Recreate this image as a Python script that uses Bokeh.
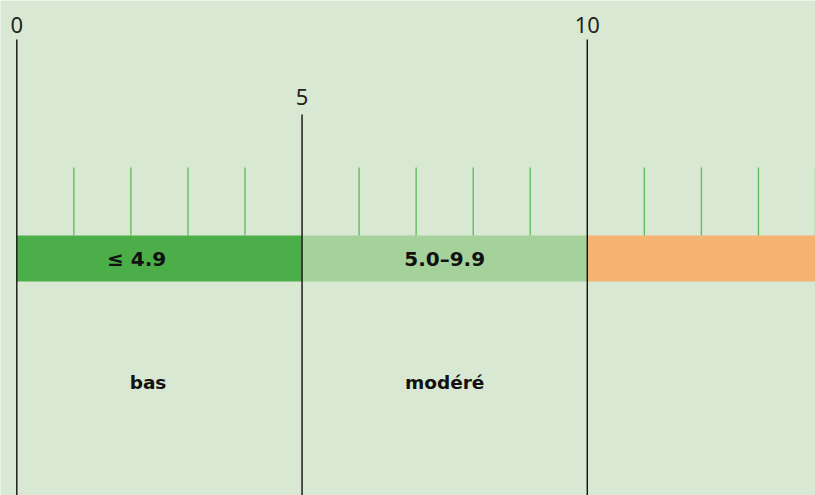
from bokeh.plotting import figure
from bokeh.models import Range1d
from bokeh.core.properties import value
from bokeh.embed import file_html
from bokeh.resources import INLINE

# --- data ---
band_starts = [0, 5, 10]
band_ends = [5, 10, 15]
band_colors = ["#4cae48", "#a5d19b", "#f4b372"]
band_labels = ["\u2264 4.9", "5.0\u20139.9", ""]
band_label_x = [2.1, 7.5, 12.5]
category_labels = ["bas", "modéré"]
category_label_x = [2.3, 7.5]
major_ticks = [0, 5, 10]
major_tick_labels = ["0", "5", "10"]
major_line_top = [39, 114, 39]
major_label_y = [24, 96, 24]
minor_ticks = [1, 2, 3, 4, 6, 7, 8, 9, 11, 12, 13, 14]

BG = "#d9e8d2"
FONT = "Noto Sans"
BOLD_FONT = "DejaVu Sans"

# pixel x = 16.3 + 57.05*v
scale = 57.05
x0 = 16.3
x_start = (0 - x0) / scale
x_end = (815 - x0) / scale

p = figure(width=815, height=495, output_backend="svg", toolbar_location=None,
           x_range=Range1d(x_start, x_end), y_range=Range1d(495, 0),
           min_border=0, background_fill_color=BG, border_fill_color=BG,
           outline_line_color=None)
p.axis.visible = False
p.grid.visible = False

# bands
p.quad(left=band_starts, right=band_ends, top=235, bottom=281,
       fill_color=band_colors, line_color=None)

# minor ticks
p.segment(x0=minor_ticks, x1=minor_ticks, y0=[167] * len(minor_ticks),
          y1=[235] * len(minor_ticks), line_color="#62bd5e", line_width=1.4)

# major lines
p.segment(x0=major_ticks, x1=major_ticks, y0=major_line_top,
          y1=[500] * len(major_ticks), line_color="#111111", line_width=1.4)

# major labels
p.text(x=major_ticks, y=major_label_y, text=major_tick_labels,
       text_font=value(FONT), text_font_size="22px", text_color="#222222",
       text_align="center", text_baseline="middle")

# band labels
p.text(x=band_label_x, y=[258] * 3, text=band_labels,
       text_font=value(BOLD_FONT), text_font_size="20px", text_font_style="bold",
       text_color="#111111", text_align="center", text_baseline="middle")

# category labels
p.text(x=category_label_x, y=[382] * 2, text=category_labels,
       text_font=value(BOLD_FONT), text_font_size="18.5px", text_font_style="bold",
       text_color="#111111", text_align="center", text_baseline="middle")

open("out.html", "w").write(file_html(p, INLINE))
